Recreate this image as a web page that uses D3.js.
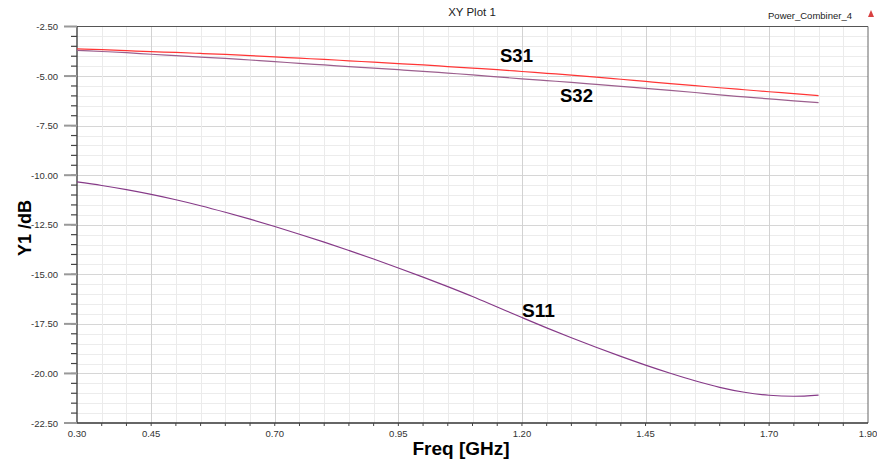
<!DOCTYPE html>
<html>
<head>
<meta charset="utf-8">
<script src="https://cdn.jsdelivr.net/npm/d3@7"></script>
<style>
  body { margin: 0; background: #fff; }
  svg { display: block; font-family: Arial, "Liberation Sans", sans-serif; }
</style>
</head>
<body>
<div id="chart"></div>
<script>
// values
const freq = [0.30, 0.35, 0.40, 0.45, 0.50, 0.55, 0.60, 0.65, 0.70, 0.75, 0.80,
              0.85, 0.90, 0.95, 1.00, 1.05, 1.10, 1.15, 1.20, 1.25, 1.30, 1.35,
              1.40, 1.45, 1.50, 1.55, 1.60, 1.65, 1.70, 1.75, 1.80];
const s31 = [-3.63, -3.67, -3.72, -3.77, -3.81, -3.86, -3.91, -3.97, -4.03, -4.10, -4.16,
             -4.23, -4.30, -4.37, -4.44, -4.52, -4.60, -4.68, -4.77, -4.86, -4.95, -5.05,
             -5.16, -5.27, -5.38, -5.48, -5.59, -5.69, -5.79, -5.89, -5.99];
const s32 = [-3.70, -3.76, -3.82, -3.90, -3.97, -4.04, -4.11, -4.19, -4.27, -4.36, -4.44,
             -4.52, -4.60, -4.68, -4.76, -4.85, -4.94, -5.04, -5.14, -5.23, -5.32, -5.42,
             -5.52, -5.62, -5.72, -5.83, -5.95, -6.05, -6.15, -6.25, -6.34];
const s11 = [-10.34, -10.52, -10.73, -10.97, -11.24, -11.54, -11.87, -12.22, -12.59, -12.98, -13.38,
             -13.80, -14.23, -14.68, -15.14, -15.62, -16.12, -16.65, -17.18, -17.70, -18.20, -18.68,
             -19.14, -19.58, -19.99, -20.37, -20.70, -20.95, -21.10, -21.15, -21.09];
const xTickLabels = [0.30, 0.45, 0.70, 0.95, 1.20, 1.45, 1.70, 1.90];
const yTickLabels = [-2.5, -5, -7.5, -10, -12.5, -15, -17.5, -20, -22.5];
const seriesNames = ['S31', 'S32', 'S11'];

const width = 877, height = 463;
const margin = { left: 77, top: 26.5, right: 9, bottom: 40 };

const x = d3.scaleLinear().domain([0.3, 1.9]).range([margin.left, width - margin.right]);
const y = d3.scaleLinear().domain([-22.5, -2.5]).range([height - margin.bottom, margin.top]);

const svg = d3.select('#chart').append('svg')
    .attr('width', width)
    .attr('height', height);

// grid
const minorX = d3.range(0.35, 1.8751, 0.05);
const minorY = d3.range(-22, -2.51, 0.5);
const grid = svg.append('g').attr('class', 'grid');
grid.selectAll('.gy').data(minorY).enter().append('line')
    .attr('x1', x(0.3)).attr('x2', x(1.9))
    .attr('y1', d => Math.round(y(d)) + 0.5).attr('y2', d => Math.round(y(d)) + 0.5)
    .attr('stroke', d => Math.abs(d / 2.5 - Math.round(d / 2.5)) < 1e-6 ? '#d6d6d6' : '#ececec')
    .attr('stroke-width', 1);
grid.selectAll('.gx').data(minorX).enter().append('line')
    .attr('y1', y(-2.5)).attr('y2', y(-22.5))
    .attr('x1', d => Math.round(x(d)) + 0.5).attr('x2', d => Math.round(x(d)) + 0.5)
    .attr('stroke', d => xTickLabels.some(t => Math.abs(t - d) < 1e-6) ? '#d2d2d2' : '#ebebeb')
    .attr('stroke-width', 1);

// frame
svg.append('line').attr('x1', x(0.3)).attr('x2', x(1.9)).attr('y1', y(-2.5)).attr('y2', y(-2.5))
    .attr('stroke', '#555').attr('stroke-width', 1);
svg.append('line').attr('x1', x(1.9)).attr('x2', x(1.9)).attr('y1', y(-2.5)).attr('y2', y(-22.5))
    .attr('stroke', '#666').attr('stroke-width', 1);

// y axis
const yAxis = svg.append('g').attr('transform', `translate(${margin.left},0)`);
yAxis.append('line').attr('x1', 0).attr('x2', 0).attr('y1', y(-2.5)).attr('y2', y(-22.5))
    .attr('stroke', '#333').attr('stroke-width', 1.3);
yAxis.selectAll('.ymin').data(minorY).enter().append('line')
    .attr('x1', -6).attr('x2', 0)
    .attr('y1', d => y(d)).attr('y2', d => y(d))
    .attr('stroke', '#444').attr('stroke-width', 1.2);
yAxis.selectAll('.ymaj').data(yTickLabels).enter().append('line')
    .attr('x1', -13).attr('x2', 0)
    .attr('y1', d => y(d)).attr('y2', d => y(d))
    .attr('stroke', '#999').attr('stroke-width', 2);
yAxis.selectAll('text').data(yTickLabels).enter().append('text')
    .attr('x', -19).attr('y', d => y(d) + 3.5)
    .attr('text-anchor', 'end')
    .attr('font-size', 9.5).attr('fill', '#333')
    .text(d => d.toFixed(2));

// x axis
const xAxis = svg.append('g').attr('transform', `translate(0,${height - margin.bottom})`);
xAxis.append('line').attr('x1', x(0.3)).attr('x2', x(1.9)).attr('y1', 0).attr('y2', 0)
    .attr('stroke', '#333').attr('stroke-width', 1.3);
xAxis.selectAll('.xt').data(minorX).enter().append('line')
    .attr('x1', d => x(d)).attr('x2', d => x(d)).attr('y1', 0).attr('y2', 3)
    .attr('stroke', '#444').attr('stroke-width', 1);
xAxis.selectAll('text').data(xTickLabels).enter().append('text')
    .attr('x', d => x(d)).attr('y', 14)
    .attr('text-anchor', 'middle')
    .attr('font-size', 9.5).attr('fill', '#333')
    .text(d => d.toFixed(2));

// curves
const line = d3.line().x(d => x(d[0])).y(d => y(d[1])).curve(d3.curveMonotoneX);
const series = [
    { name: 'S31', values: s31, color: '#ff3535', lx: 500, ly: 62 },
    { name: 'S32', values: s32, color: '#9c5f8e', lx: 560, ly: 102 },
    { name: 'S11', values: s11, color: '#863a88', lx: 522, ly: 317 }
];
series.forEach(s => {
    svg.append('path')
        .datum(freq.map((f, i) => [f, s.values[i]]))
        .attr('fill', 'none')
        .attr('stroke', s.color)
        .attr('stroke-width', 1.2)
        .attr('d', line);
});
svg.selectAll('.slabel').data(series).enter().append('text')
    .attr('x', d => d.lx).attr('y', d => d.ly)
    .attr('font-size', 19).attr('font-weight', 'bold').attr('fill', '#000')
    .attr('textLength', 33).attr('lengthAdjust', 'spacingAndGlyphs')
    .text((d, i) => seriesNames[i]);

// titles
svg.append('text').attr('x', 472).attr('y', 16).attr('text-anchor', 'middle')
    .attr('font-size', 11.5).attr('fill', '#222').text('XY Plot 1');
svg.append('text').attr('x', 852).attr('y', 19).attr('text-anchor', 'end')
    .attr('font-size', 9.5).attr('fill', '#222').text('Power_Combiner_4');
svg.append('path').attr('d', 'M868,17 L871,10 L874,17 Z').attr('fill', '#d84040');
svg.append('text').attr('x', 461).attr('y', 455).attr('text-anchor', 'middle')
    .attr('font-size', 19).attr('font-weight', 'bold').attr('fill', '#000')
    .text('Freq [GHz]');
svg.append('text').attr('transform', 'translate(31,228) rotate(-90)')
    .attr('text-anchor', 'middle')
    .attr('font-size', 18).attr('font-weight', 'bold').attr('fill', '#000')
    .text('Y1 /dB');
</script>
</body>
</html>
